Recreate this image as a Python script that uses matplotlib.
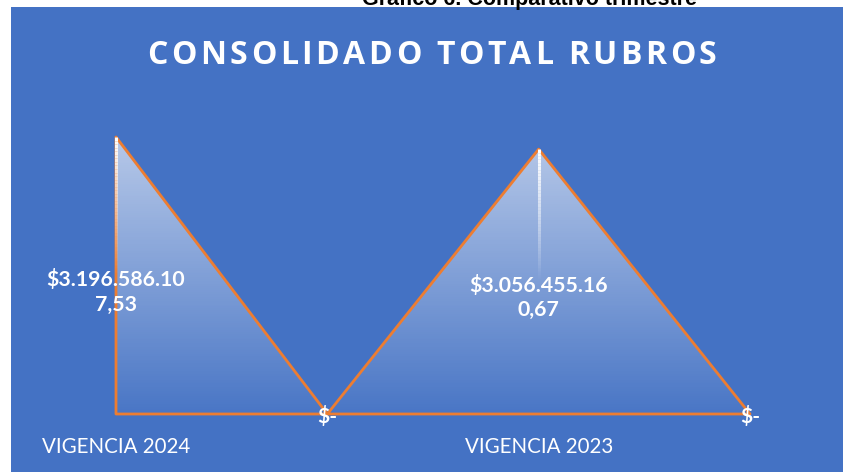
import numpy as np
import matplotlib
matplotlib.use("Agg")
import matplotlib.pyplot as plt
from matplotlib.patches import Rectangle
from matplotlib.collections import LineCollection
from matplotlib.transforms import offset_copy

# data
categories = ["VIGENCIA 2024", "", "VIGENCIA 2023", ""]
values = [3196586107.53, 0.0, 3056455160.67, 0.0]
title = "CONSOLIDADO TOTAL RUBROS"
caption = "Gráfico 6. Comparativo trimestre"

BLUE = "#4472C4"
ORANGE = "#ED7D31"
W, H = 843, 472


def fmt_money(v):
    if v == 0:
        return "$-"
    s = f"{v:,.2f}".replace(",", "X").replace(".", ",").replace("X", ".")
    s = "$" + s
    return s[:13] + "\n" + s[13:]


fig = plt.figure(figsize=(W / 100, H / 100), dpi=100)
fig.patch.set_facecolor("white")

# blue chart panel
fig.patches.append(Rectangle((11 / W, 0), 1 - 11 / W, (H - 7) / H,
                             transform=fig.transFigure, facecolor=BLUE,
                             edgecolor="none", zorder=0))

# caption cut off at the top (as in the source image)
fig.text(530 / W, (H - 5) / H, caption, ha="center", va="baseline",
         fontsize=15.5, fontweight="bold", family="Liberation Sans", color="black")

ax = fig.add_axes([11 / W, 0, 1 - 11 / W, (H - 7) / H])
ax.set_zorder(2)
ax.set_facecolor("none")
x = np.arange(len(values))
step = 211.33
ax.set_xlim(-105 / step, (843 - 116) / step)
scale = values[0] / 277.0
ax.set_ylim(-58 * scale, (465 - 58) * scale)
ax.axis("off")

# gradient area
poly = ax.fill_between(x, values, 0, facecolor="none", edgecolor="none")
ymax = max(values)
n = 256
grad = np.zeros((n, 2, 4))
grad[:, :, :3] = 1.0
grad[:, :, 3] = np.linspace(0.03, 0.62, n)[:, None]
im = ax.imshow(grad, extent=[x[0], x[-1], 0, ymax], origin="lower",
               aspect="auto", interpolation="bilinear", zorder=2)
im.set_clip_path(poly.get_paths()[0], transform=ax.transData)

# outline
ax.fill_between(x, values, 0, facecolor="none", edgecolor=ORANGE,
                linewidth=2, zorder=3)

# white fading highlight at the peaks
for xi, v in zip(x, values):
    if v == 0:
        continue
    ys = np.linspace(v, v * 0.5, 40)
    segs = [[(xi, ys[i]), (xi, ys[i + 1])] for i in range(len(ys) - 1)]
    alphas = np.linspace(1.0, 0.0, len(segs))
    cols = [(1, 1, 1, a) for a in alphas]
    ax.add_collection(LineCollection(segs, colors=cols, linewidths=2.2, zorder=4))

# data labels
for xi, v in zip(x, values):
    if v == 0:
        ax.text(xi, 0, fmt_money(v), ha="center", va="center", color="white",
                fontsize=15, fontweight="bold", family="Lato", zorder=5,
                transform=offset_copy(ax.transData, fig=fig, y=-3, units="dots"))
    else:
        ax.text(xi, v * 0.44, fmt_money(v), ha="center", va="center",
                color="white", fontsize=15.3, fontweight="bold", family="Lato",
                linespacing=1.3, zorder=5)

# category labels below the baseline
cat_tr = offset_copy(ax.transData, fig=fig, y=-33, units="dots")
for xi, c in zip(x, categories):
    if c:
        ax.text(xi, 0, c, ha="center", va="center", color="white",
                fontsize=14.8, family="Lato", transform=cat_tr)

# title with letter spacing
renderer = fig.canvas.get_renderer()
spacing = 3.5
chars = []
total = 0
for ch in title:
    t = fig.text(0, 0, ch, fontsize=23, fontweight="bold", family="Open Sans",
                 color="white", va="baseline")
    w = t.get_window_extent(renderer).width
    if ch == " ":
        w = 8
    chars.append((t, w))
    total += w + spacing
total -= spacing
xpos = 432 - total / 2
for t, w in chars:
    t.set_position((xpos / W, (H - 64) / H))
    xpos += w + spacing

fig.savefig("out.png", dpi=100, facecolor=fig.get_facecolor())
